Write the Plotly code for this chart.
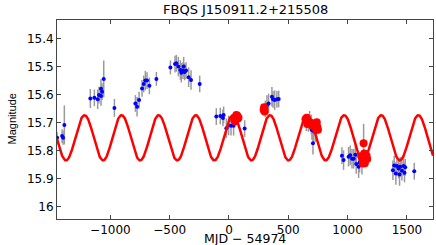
import plotly.graph_objects as go
import numpy as np

# ---- data ----
blue_x = [-1449, -1407, -1399, -1388, -1169, -1135, -1107, -1096, -1079, -1079, -1070, -1056,
          -966, -789, -775, -758, -733, -719, -705, -691, -671, -612,
          -494, -455, -444, -427, -410, -402, -388, -382, -374, -362, -340, -320, -247,
          -107, -73, -51, -45, -22, -3, 17, 39, 132,
          306, 320, 334, 362, 371, 385, 404, 419,
          652, 669, 680, 694, 699, 713, 728, 708,
          952, 966, 1008, 1022, 1037, 1051, 1073, 1093, 1101, 1065, 1121,
          1382, 1393, 1407, 1416, 1430, 1438, 1444, 1458, 1472, 1480, 1486, 1562]
blue_y = [15.754, 15.748, 15.754, 15.708, 15.613, 15.611, 15.616, 15.601, 15.604, 15.578, 15.589, 15.543,
          15.647, 15.631, 15.643, 15.619, 15.577, 15.561, 15.549, 15.549, 15.568, 15.543,
          15.502, 15.490, 15.487, 15.499, 15.511, 15.521, 15.513, 15.499, 15.518, 15.513, 15.537, 15.547, 15.561,
          15.678, 15.676, 15.683, 15.672, 15.720, 15.710, 15.711, 15.711, 15.721,
          15.651, 15.637, 15.631, 15.607, 15.616, 15.619, 15.616, 15.615,
          15.700, 15.702, 15.693, 15.706, 15.726, 15.730, 15.735, 15.774,
          15.818, 15.834, 15.822, 15.817, 15.829, 15.829, 15.848, 15.858, 15.843, 15.815, 15.846,
          15.870, 15.853, 15.882, 15.855, 15.864, 15.886, 15.858, 15.872, 15.855, 15.879, 15.860, 15.874]
blue_err = [0.02, 0.025, 0.025, 0.07, 0.034, 0.03, 0.035, 0.03, 0.035, 0.035, 0.03, 0.066,
            0.032, 0.03, 0.035, 0.03, 0.03, 0.03, 0.035, 0.03, 0.03, 0.025,
            0.025, 0.03, 0.03, 0.035, 0.035, 0.035, 0.03, 0.035, 0.03, 0.03, 0.035, 0.035, 0.03,
            0.03, 0.03, 0.03, 0.03, 0.035, 0.035, 0.035, 0.035, 0.03,
            0.03, 0.035, 0.035, 0.035, 0.03, 0.035, 0.03, 0.03,
            0.03, 0.03, 0.035, 0.035, 0.035, 0.04, 0.035, 0.04,
            0.03, 0.035, 0.035, 0.035, 0.035, 0.035, 0.035, 0.04, 0.035, 0.035, 0.04,
            0.035, 0.035, 0.04, 0.035, 0.035, 0.04, 0.035, 0.035, 0.035, 0.035, 0.03, 0.03]

red_x = [45, 50, 55, 58, 62, 70, 75, 80,
         292, 296, 298, 300,
         645, 655, 660, 665, 690, 700, 720, 735, 740, 745, 750,
         1135, 1115, 1125, 1130, 1135, 1140, 1145, 1150, 1160, 1165]
red_y = [15.690, 15.695, 15.680, 15.688, 15.672, 15.675, 15.685, 15.682,
         15.654, 15.645, 15.650, 15.660,
         15.688, 15.682, 15.705, 15.695, 15.700, 15.710, 15.705, 15.725, 15.698, 15.715, 15.725,
         15.774, 15.820, 15.830, 15.846, 15.840, 15.810, 15.845, 15.825, 15.818, 15.830]
red_err = [0.01] * 23 + [0.07] + [0.01] * 9

# sinusoidal model parameters
model_mean = 15.754
model_amp = 0.081
model_period = 312.7
model_peak = 33.0
model_xmin, model_xmax = -1450, 1720

x_ticks = [-1000, -500, 0, 500, 1000, 1500]
y_ticks = [15.4, 15.5, 15.6, 15.7, 15.8, 15.9, 16.0]
y_tick_labels = ["15.4", "15.5", "15.6", "15.7", "15.8", "15.9", "16"]
title = "FBQS J150911.2+215508"

mx = np.linspace(model_xmin, model_xmax, 1200)
my = model_mean - model_amp * np.cos(2 * np.pi * (mx - model_peak) / model_period)

WIDE = "DejaVu Sans, Verdana, sans-serif"
NARROW = "Liberation Sans, Arial, Helvetica, sans-serif"

fig = go.Figure()
fig.add_trace(go.Scatter(
    x=blue_x, y=blue_y, mode="markers",
    error_y=dict(type="data", array=blue_err, color="#9a9a9a", thickness=1.5, width=0),
    marker=dict(color="#0000ff", size=4, symbol="circle"),
    showlegend=False))
fig.add_trace(go.Scatter(
    x=red_x, y=red_y, mode="markers",
    error_y=dict(type="data", array=red_err, color="#9a9a9a", thickness=1.5, width=0),
    marker=dict(color="#ff0000", size=8, symbol="circle"),
    showlegend=False))
fig.add_trace(go.Scatter(
    x=mx, y=my, mode="lines", line=dict(color="#ff0000", width=2.5),
    showlegend=False))

axis_common = dict(
    showgrid=False, zeroline=False, showline=True, linecolor="#444444", linewidth=1,
    mirror="ticks", ticks="inside", ticklen=4, tickcolor="#444444",
    tickfont=dict(family=WIDE, size=12, color="black"), automargin=False)

fig.update_xaxes(range=[model_xmin, model_xmax], tickvals=x_ticks,
                 ticktext=[str(v).replace("-", "\u2212") for v in x_ticks], **axis_common)
fig.update_yaxes(range=[16.045, 15.332], tickvals=y_ticks, ticktext=y_tick_labels,
                 **axis_common)

plot_h = 245 - 20 - 26
fig.update_layout(
    width=436, height=245,
    margin=dict(l=57, r=3, t=20, b=26),
    paper_bgcolor="white", plot_bgcolor="white",
    font=dict(family=WIDE, color="black"),
    annotations=[
        dict(text=title, x=0.5, xref="paper", y=1 + (20 - 9) / plot_h, yref="paper",
             yanchor="middle", showarrow=False,
             font=dict(family=WIDE, size=13, color="black")),
        dict(text="MJD \u2212 54974", x=0.5, xref="paper", y=0, yref="paper",
             yanchor="middle", yshift=-19.5, showarrow=False,
             font=dict(family=WIDE, size=12.5, color="black")),
        dict(text="Magnitude", textangle=-90, x=0, xref="paper", xshift=-46, xanchor="center",
             y=0.5, yref="paper", yanchor="middle", showarrow=False,
             font=dict(family=NARROW, size=11, color="black")),
    ])

fig.write_html("out.html", config={"displayModeBar": False},
               post_script="document.body.style.margin='0';")
